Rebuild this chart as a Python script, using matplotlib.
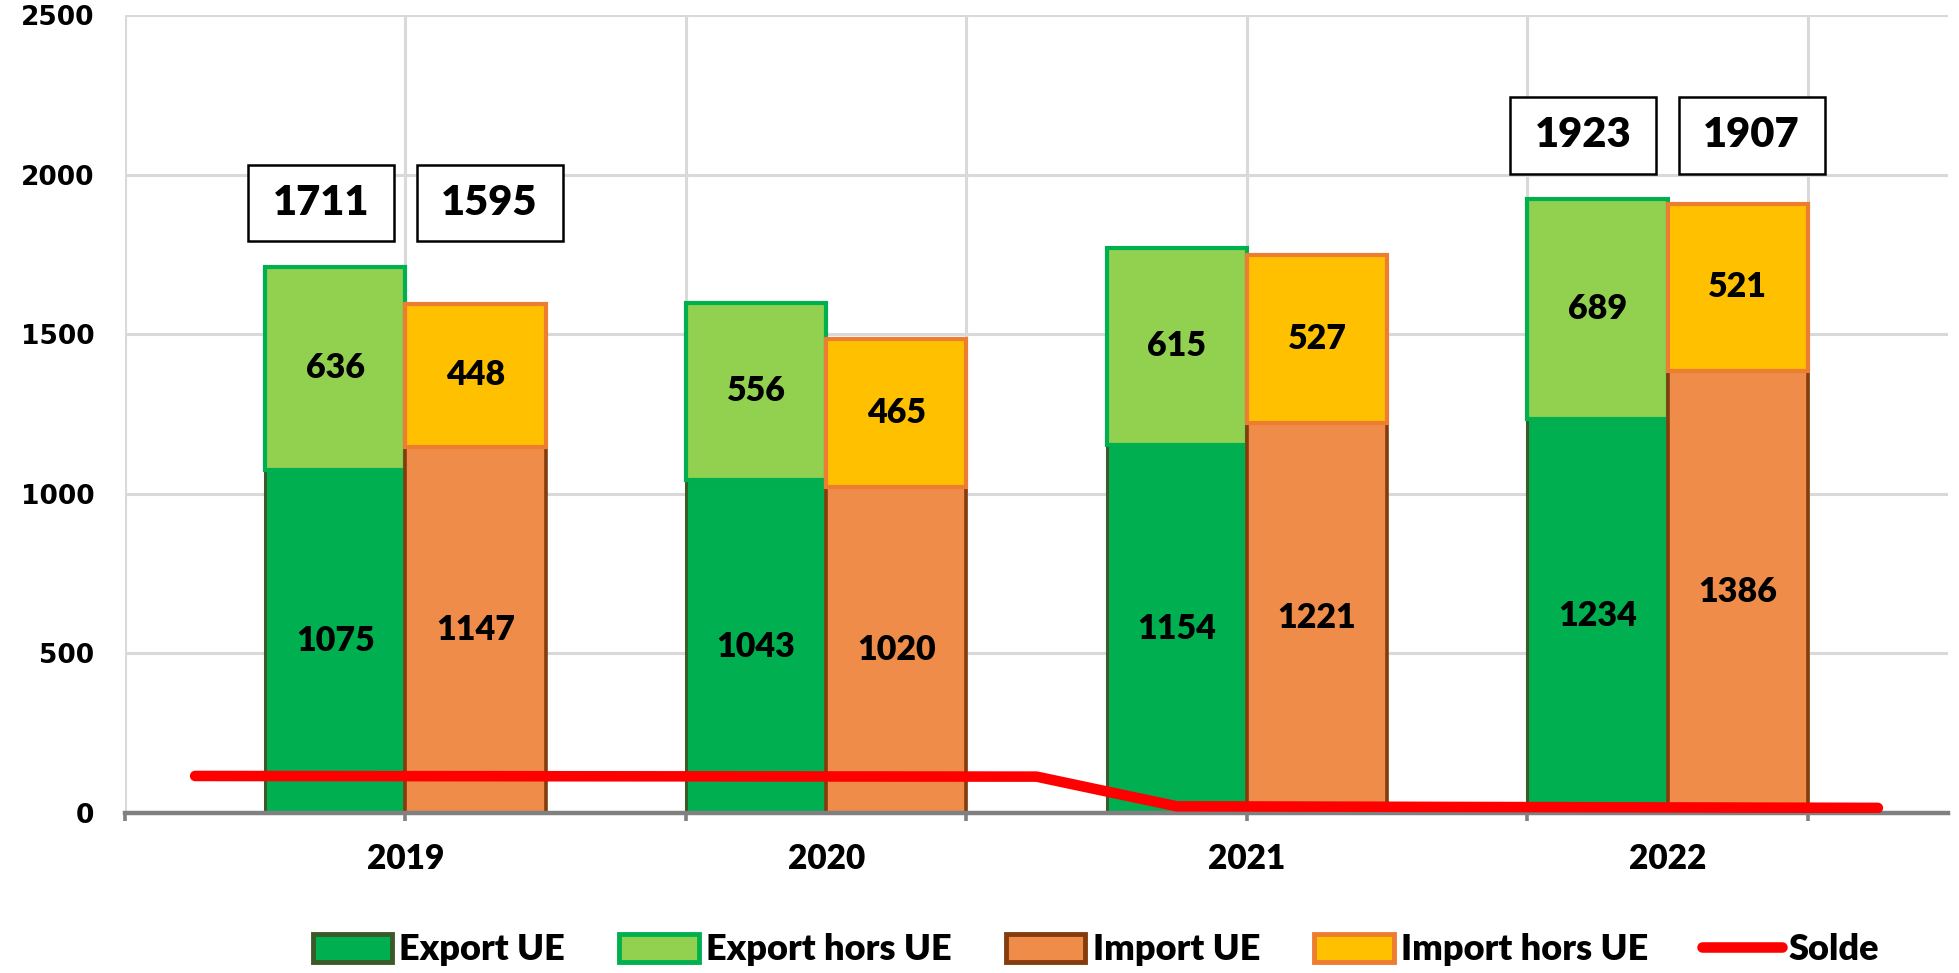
import numpy as np
import matplotlib
matplotlib.use("Agg")
import matplotlib.pyplot as plt
import matplotlib.transforms as mtransforms
from matplotlib.patches import Patch, Rectangle
from matplotlib.lines import Line2D

# ---- data ----
years = ["2019", "2020", "2021", "2022"]
export_ue = [1075, 1043, 1154, 1234]
export_hors_ue = [636, 556, 615, 689]
import_ue = [1147, 1020, 1221, 1386]
import_hors_ue = [448, 465, 527, 521]
solde = [116, 114, 21, 16]
total_boxes = {"2019": (1711, 1595), "2022": (1923, 1907)}
y_ticks = [0, 500, 1000, 1500, 2000, 2500]

# ---- layout ----
group_centers = 1.0 + 1.5 * np.arange(len(years))
bar_w = 0.5
solde_pos = [0.25, 3.25, 3.75, 6.25]

c_exp_ue, e_exp_ue = "#00B050", "#3B5A27"
c_exp_h, e_exp_h = "#92D050", "#00B050"
c_imp_ue, e_imp_ue = "#EF8C4A", "#843C0C"
c_imp_h, e_imp_h = "#FFC000", "#ED7D31"

LATO = "Lato"
W = "heavy"

fig = plt.figure(figsize=(19.59, 9.73), dpi=100)
ax = fig.add_axes([125/1959, 1-813/973, (1948-125)/1959, (813-15)/973])

ax.set_xlim(0, 6.5)
ax.set_ylim(0, 2500)

# grid
for v in y_ticks[1:]:
    ax.axhline(v, color="#D9D9D9", lw=2.2, zorder=0)
for xv in range(0, 7):
    ax.axvline(xv, color="#D9D9D9", lw=2.2, zorder=0)

xe = group_centers - bar_w / 2
xi = group_centers + bar_w / 2
ax.bar(xe, export_ue, bar_w, color=c_exp_ue, edgecolor=e_exp_ue, lw=2.2, zorder=2)
ax.bar(xe, export_hors_ue, bar_w, bottom=export_ue, color=c_exp_h, edgecolor=e_exp_h, lw=3.0, zorder=2)
ax.bar(xi, import_ue, bar_w, color=c_imp_ue, edgecolor=e_imp_ue, lw=2.6, zorder=2)
ax.bar(xi, import_hors_ue, bar_w, bottom=import_ue, color=c_imp_h, edgecolor=e_imp_h, lw=3.0, zorder=2.1)

lab_kw = dict(ha="center", va="center", fontsize=24.5, fontweight=W, family=LATO, zorder=5)
for i in range(len(years)):
    ax.text(xe[i], export_ue[i] / 2, str(export_ue[i]), **lab_kw)
    ax.text(xe[i], export_ue[i] + export_hors_ue[i] / 2, str(export_hors_ue[i]), **lab_kw)
    ax.text(xi[i], import_ue[i] / 2, str(import_ue[i]), **lab_kw)
    ax.text(xi[i], import_ue[i] + import_hors_ue[i] / 2, str(import_hors_ue[i]), **lab_kw)

# total boxes
box_w, box_h, box_gap, box_off = 0.52, 240, 80, 0.05
for yr, (te, ti) in total_boxes.items():
    i = years.index(yr)
    yb = max(te, ti) + box_gap
    for xc, val in ((xe[i] - box_off, te), (xi[i] + box_off, ti)):
        ax.add_patch(Rectangle((xc - box_w / 2, yb), box_w, box_h, facecolor="white",
                               edgecolor="black", lw=1.8, zorder=4))
        ax.text(xc, yb + box_h / 2, str(val), ha="center", va="center", fontsize=30,
                fontweight=W, family=LATO, zorder=5)

# solde line
ax.plot(solde_pos, solde, color="#FF0000", lw=7.6, solid_capstyle="round",
        solid_joinstyle="round", zorder=6)

# axes styling
for s in ["top", "right", "left"]:
    ax.spines[s].set_visible(False)
ax.spines["bottom"].set_color("#808080")
ax.spines["bottom"].set_linewidth(3.2)
ax.spines["bottom"].set_zorder(3)

ax.set_yticks(y_ticks)
ax.set_yticklabels([str(v) for v in y_ticks], fontsize=19, fontweight="bold", family="DejaVu Sans")
ax.tick_params(axis="y", length=0, pad=22)

ax.set_xticks(range(0, 7))
ax.set_xticklabels([])
ax.tick_params(axis="x", which="major", direction="out", length=6, width=2.6, color="#808080")

# year labels
trans = mtransforms.blended_transform_factory(ax.transData, fig.transFigure)
for xc, yr in zip(group_centers, years):
    ax.text(xc, 1 - 859/973, yr, transform=trans, ha="center", va="center",
            fontsize=24, fontweight=W, family=LATO)

handles = [
    Patch(facecolor=c_exp_ue, edgecolor=e_exp_ue, lw=3.5),
    Patch(facecolor=c_exp_h, edgecolor=e_exp_h, lw=3.5),
    Patch(facecolor=c_imp_ue, edgecolor=e_imp_ue, lw=3.5),
    Patch(facecolor=c_imp_h, edgecolor=e_imp_h, lw=3.5),
    Line2D([0], [0], color="#FF0000", lw=7.6, solid_capstyle="round"),
]
labels = ["Export UE", "Export hors UE", "Import UE", "Import hors UE", "Solde"]
fig.legend(handles, labels, loc="center", bbox_to_anchor=(0.5595, 1 - 950/973), ncol=5,
           frameon=False, prop={"family": LATO, "weight": W, "size": 26},
           handlelength=2.2, handleheight=0.8, handletextpad=0.2, columnspacing=1.5,
           borderpad=0)

fig.savefig("out.png", dpi=100)
